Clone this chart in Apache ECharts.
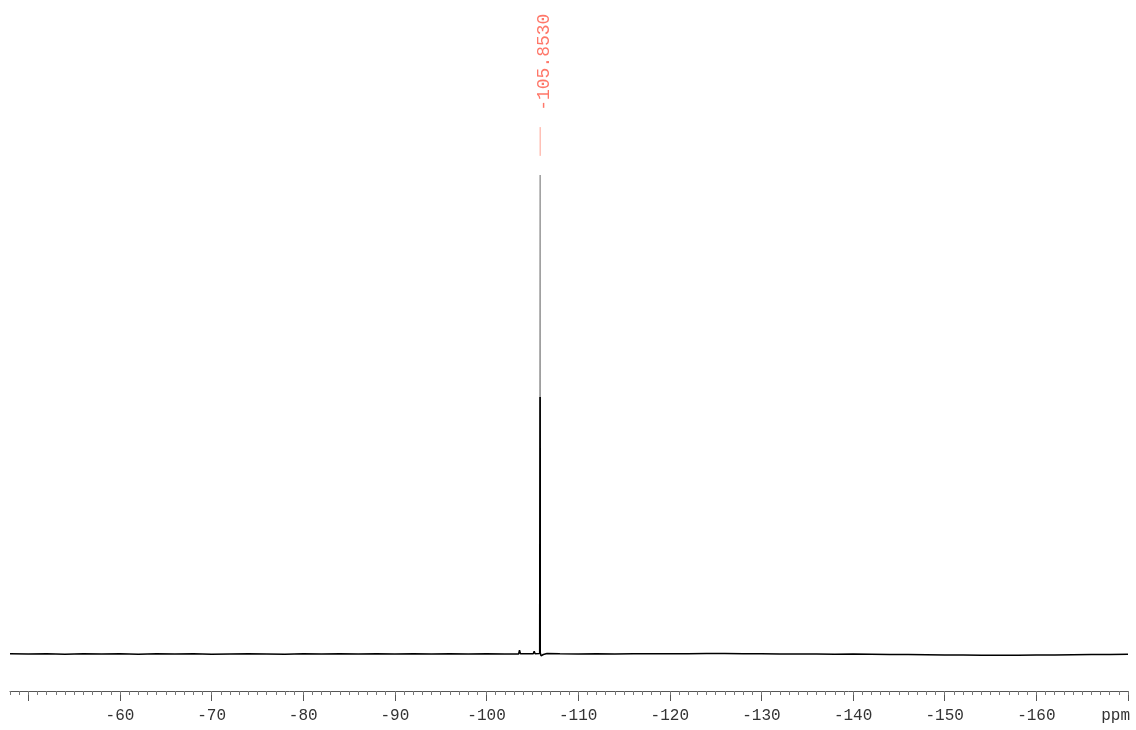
<!DOCTYPE html>
<html>
<head>
<meta charset="utf-8">
<script src="https://cdn.jsdelivr.net/npm/echarts@6/dist/echarts.min.js"></script>
<style>
html,body{margin:0;padding:0;background:#fff;}
#chart{width:1136px;height:730px;}
</style>
</head>
<body>
<div id="chart"></div>
<script>
// Chemical shift (ppm) and relative intensity (apex = 100)
const spectrumPpm = [
  -48, -50, -52, -54, -56, -58, -60, -62, -64, -66, -68, -70, -72, -74, -76, -78,
  -80, -82, -84, -86, -88, -90, -92, -94, -96, -98, -100, -102, -103.5, -103.6, -103.7,
  -104.5, -105.1, -105.2, -105.3, -105.8, -105.84, -105.853, -105.866, -105.95, -106.2, -106.6,
  -108, -110, -112, -114, -116, -118, -120, -122, -124, -126, -128, -130, -132, -134,
  -136, -138, -140, -142, -144, -146, -148, -150, -152, -154, -156, -158, -160, -162,
  -164, -166, -168, -170
];
const spectrumIntensity = [
  0.05, 0.0, 0.05, -0.05, 0.05, 0.0, 0.05, -0.05, 0.05, 0.0, 0.05, -0.05, 0.0, 0.05, 0.0, -0.05,
  0.05, 0.0, 0.05, 0.0, 0.05, 0.0, 0.05, 0.0, 0.05, 0.0, 0.05, 0.0, 0.0, 0.8, 0.05,
  0.05, 0.05, 0.6, 0.05, 0.1, 0.3, 100, 0.3, -0.4, -0.1, 0.1,
  0.05, 0.0, 0.05, 0.0, 0.05, 0.05, 0.05, 0.05, 0.1, 0.1, 0.05, 0.05, 0.0, 0.0,
  0.0, -0.05, 0.0, -0.05, -0.1, -0.1, -0.15, -0.2, -0.2, -0.25, -0.25, -0.25, -0.2, -0.2,
  -0.15, -0.1, -0.1, -0.05
];
const peakPpm = [-105.853];
const peakLabels = ['-105.8530'];
const majorTicks = [-50, -60, -70, -80, -90, -100, -110, -120, -130, -140, -150, -160, -170];
const tickLabels = [-60, -70, -80, -90, -100, -110, -120, -130, -140, -150, -160];

const X_MIN = -170, X_MAX = -48;
const Y_MIN = -7.72, Y_MAX = 132.36;
const APEX = 100;
const GRAY_LEVEL = 53.65;       // intensity above which the narrow peak looks grey
const MARK_FROM = APEX + 4.0;   // red marker line (intensity units above apex)
const MARK_TO = APEX + 10.0;
const TEXT_AT = APEX + 13.4;

const spectrum = spectrumPpm.map((p, i) => [p, spectrumIntensity[i]]);
const markerLines = [];
peakPpm.forEach((p, i) => {
  if (i > 0) markerLines.push([p, null]);
  markerLines.push([p, MARK_FROM], [p, MARK_TO]);
});
const FONT = '"Liberation Mono", "DejaVu Sans Mono", monospace';

const chart = echarts.init(document.getElementById('chart'), null, {renderer: 'canvas'});
chart.setOption({
  animation: false,
  backgroundColor: '#ffffff',
  grid: {left: 10, right: 8, top: 20, bottom: 39, containLabel: false},
  xAxis: [
    {
      type: 'value', min: X_MIN, max: X_MAX, inverse: true, position: 'bottom',
      axisLine: {show: true, onZero: false, lineStyle: {color: '#555', width: 1}},
      axisTick: {show: true, length: 10, lineStyle: {color: '#555'}, customValues: majorTicks},
      axisLabel: {show: true, margin: 17, color: '#333', fontFamily: FONT, fontSize: 16,
                  customValues: tickLabels, formatter: v => String(v)},
      splitLine: {show: false}
    },
    {
      type: 'value', min: X_MIN, max: X_MAX, inverse: true, position: 'bottom', interval: 1,
      axisLine: {show: false, onZero: false},
      axisTick: {show: true, length: 4, lineStyle: {color: '#777'}},
      axisLabel: {show: false},
      splitLine: {show: false}
    }
  ],
  yAxis: {type: 'value', min: Y_MIN, max: Y_MAX, show: false, splitLine: {show: false}},
  visualMap: {
    show: false, type: 'piecewise', seriesIndex: 0, dimension: 1,
    pieces: [{gte: Y_MIN, lt: GRAY_LEVEL, color: '#000000'}, {gte: GRAY_LEVEL, lte: Y_MAX, color: '#9a9a9a'}],
    outOfRange: {color: '#000000'}
  },
  graphic: [{
    type: 'text', right: 6, top: 708,
    style: {text: 'ppm', fontFamily: FONT, fontSize: 16, fill: '#333'}
  }],
  series: [
    {
      type: 'line', xAxisIndex: 0, data: spectrum, showSymbol: false, symbol: 'none',
      lineStyle: {width: 1.5}, silent: true
    },
    {
      type: 'line', xAxisIndex: 0, data: markerLines, showSymbol: false, symbol: 'none',
      connectNulls: false, lineStyle: {color: '#ffa090', width: 1}, silent: true
    },
    {
      type: 'scatter', xAxisIndex: 0, symbolSize: 0, silent: true,
      data: peakPpm.map((p, i) => ({value: [p, TEXT_AT], name: peakLabels[i]})),
      label: {
        show: true, rotate: 90, position: [4, 0], align: 'left', verticalAlign: 'middle',
        formatter: p => p.name, color: '#ff5544', fontFamily: FONT, fontSize: 18
      }
    }
  ]
});
</script>
</body>
</html>
